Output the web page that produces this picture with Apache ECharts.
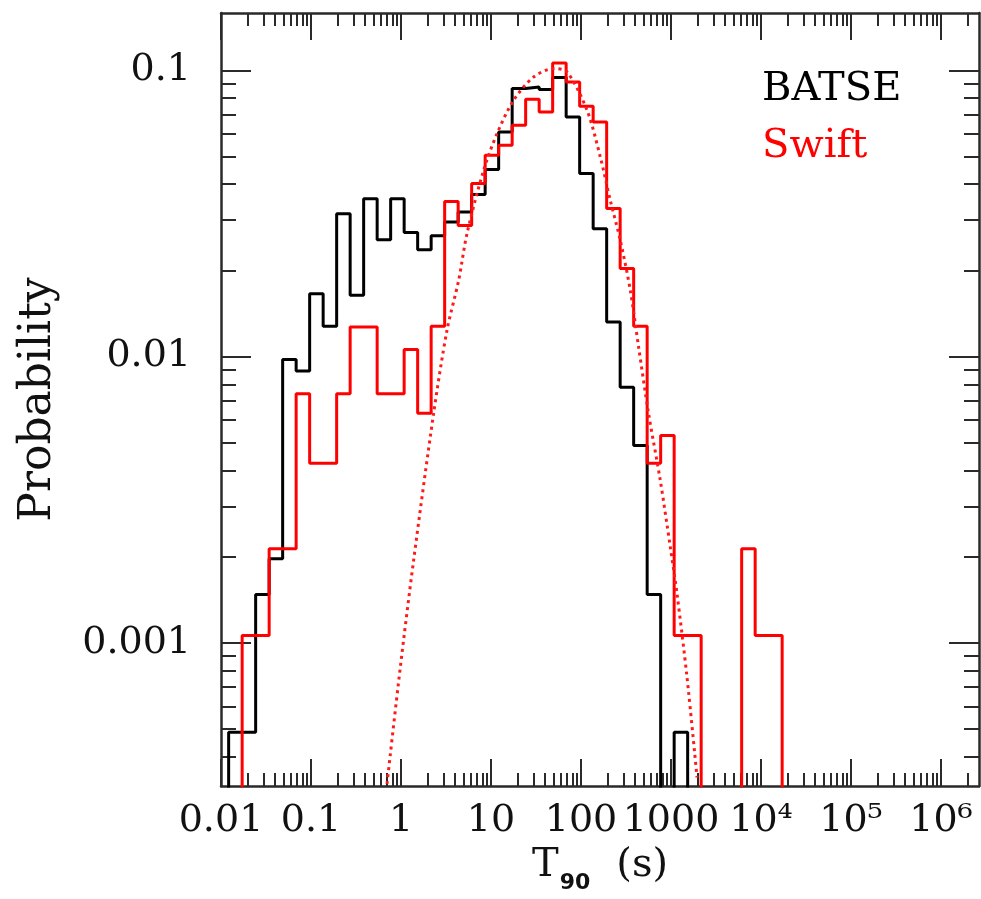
<!DOCTYPE html>
<html>
<head>
<meta charset="utf-8">
<script src="https://cdn.jsdelivr.net/npm/echarts@6/dist/echarts.min.js"></script>
<style>
html,body{margin:0;padding:0;background:#fff;}
#chart{width:981px;height:899px;}
</style>
</head>
<body>
<div id="chart"></div>
<script>
// ---- data ----
// histogram bin edges, log10(T90 / s)
const binEdgesLog = [-1.915,-1.765,-1.615,-1.465,-1.315,-1.165,-1.015,-0.865,-0.715,-0.565,
  -0.415,-0.265,-0.115,0.035,0.185,0.335,0.485,0.635,0.785,0.935,
  1.085,1.235,1.385,1.535,1.685,1.835,1.985,2.135,2.285,2.435,
  2.585,2.735,2.885,3.035,3.185,3.335,3.485,3.635,3.785,3.935,4.085,4.235];
// probability per bin (0 = empty bin)
const batseProb = [4.87e-4,4.87e-4,1.475e-3,1.966e-3,9.77e-3,8.90e-3,0.01658,0.01275,0.03156,0.01636,
  0.0356,0.0256,0.0356,0.0271,0.02362,0.02644,0.0295,0.0320,0.0368,0.0450,
  0.0609,0.0863,0.0874,0.0856,0.0943,0.0687,0.0436,0.02797,0.01320,0.00782,
  0.00489,0.001475,0,4.87e-4];
const swiftProb = [0,1.06e-3,1.06e-3,2.13e-3,2.13e-3,7.42e-3,4.24e-3,4.24e-3,7.42e-3,0.01268,
  0.01268,7.42e-3,7.42e-3,0.01059,6.34e-3,0.01275,0.0348,0.0287,0.0402,0.0505,
  0.0547,0.0642,0.0792,0.0715,0.106,0.0910,0.0748,0.0660,0.0329,0.0203,
  0.01275,4.24e-3,5.30e-3,1.06e-3,1.06e-3,0,0,0,2.13e-3,1.06e-3,1.06e-3];
// dotted fit curve
const fitT = [0.699,0.982,1.38,2.30,3.24,4.37,5.41,8.28,11.66,17.83,29.74,49.6,69.9,116.6,163.8,211.6,273.3,353,436.5,563.7,760.4,982,1166,1506,1945];
const fitP = [3.215e-4,8.21e-4,1.94e-3,6.31e-3,0.01234,0.01845,0.02688,0.04472,0.06009,0.07853,0.0947,0.1014,0.0987,0.0725,0.0498,0.0351,0.02546,0.01703,0.01079,6.31e-3,3.69e-3,2.16e-3,1.483e-3,7.58e-4,3.39e-4];
// tick labels
const xMajor = [0.01,0.1,1,10,100,1000,1e4,1e5,1e6];
const xMajorLabels = ['0.01','0.1','1','10','100','1000','10\u2074','10\u2075','10\u2076'];
const yMajor = [0.001,0.01,0.1];
const yMajorLabels = ['0.001','0.01','0.1'];

// ---- build ----
const FLOOR = 1e-7;
const X_MIN = 0.01, X_MAX = Math.pow(10, 6.422);
const Y_MIN = Math.pow(10, -3.5), Y_MAX = Math.pow(10, -0.8);

function minorTicks(lo, hi) {
  const out = [];
  for (let e = -6; e <= 7; e++) {
    for (let m = 2; m <= 9; m++) {
      const v = m * Math.pow(10, e);
      if (v > lo && v < hi) out.push(v);
    }
  }
  return out;
}
const xMinor = minorTicks(X_MIN, X_MAX);
const yMinor = minorTicks(Y_MIN, Y_MAX);

function histLine(vals) {
  const e = k => Math.pow(10, binEdgesLog[k]);
  const pts = [[e(0), FLOOR]];
  vals.forEach((v, k) => {
    const y = v > 0 ? v : FLOOR;
    pts.push([e(k), y], [e(k + 1), y]);
  });
  pts.push([e(vals.length), FLOOR]);
  return pts;
}
function labelFor(list, labels) {
  return function (val) {
    let best = 0, bd = Infinity;
    list.forEach((t, i) => {
      const d = Math.abs(Math.log10(t) - Math.log10(val));
      if (d < bd) { bd = d; best = i; }
    });
    return labels[best];
  };
}

const AX = '#2a2a2a';
const serif = 'DejaVu Serif';

function xAx(pos, ticks, len, withLabels, withLine) {
  const a = {
    type: 'log', logBase: 10, position: pos, min: X_MIN, max: X_MAX,
    gridIndex: 0,
    axisLine: { show: withLine, onZero: false, lineStyle: { color: AX, width: 2.5 } },
    axisTick: { show: true, inside: true, length: len, customValues: ticks, lineStyle: { color: AX, width: 2 } },
    splitLine: { show: false }, minorTick: { show: false }, minorSplitLine: { show: false },
    axisLabel: { show: false }
  };
  if (withLabels) {
    a.axisLabel = {
      show: true, customValues: xMajor, interval: 0, hideOverlap: false, margin: 16,
      formatter: labelFor(xMajor, xMajorLabels),
      fontFamily: serif, fontSize: 38, color: '#111'
    };
    a.name = '{t|T}{s|90}{g|}{t|(s)}';
    a.nameLocation = 'middle';
    a.nameGap = 60;
    a.nameMoveOverlap = false;
    a.nameTextStyle = {
      rich: {
        t: { fontFamily: serif, fontSize: 40, color: '#111', lineHeight: 48, verticalAlign: 'top' },
        s: { fontFamily: 'DejaVu Sans', fontWeight: 'bold', fontSize: 22, color: '#111', lineHeight: 48, verticalAlign: 'top', padding: [26, 0, 0, 1] },
        g: { width: 26 }
      }
    };
  }
  return a;
}
function yAx(pos, ticks, len, withLabels, withLine) {
  const a = {
    type: 'log', logBase: 10, position: pos, min: Y_MIN, max: Y_MAX,
    gridIndex: 0,
    axisLine: { show: withLine, onZero: false, lineStyle: { color: AX, width: 2.5 } },
    axisTick: { show: true, inside: true, length: len, customValues: ticks, lineStyle: { color: AX, width: 2 } },
    splitLine: { show: false }, minorTick: { show: false }, minorSplitLine: { show: false },
    axisLabel: { show: false }
  };
  if (withLabels) {
    a.axisLabel = {
      show: true, customValues: yMajor, interval: 0, hideOverlap: false, margin: 30,
      formatter: labelFor(yMajor, yMajorLabels),
      fontFamily: serif, fontSize: 38, color: '#111', padding: [8, 0, 0, 0]
    };
    a.name = 'Probability';
    a.nameLocation = 'middle';
    a.nameGap = 160;
    a.nameMoveOverlap = false;
    a.nameTextStyle = { fontFamily: serif, fontSize: 44, color: '#111' };
  }
  return a;
}

const option = {
  animation: false,
  backgroundColor: '#fff',
  grid: { left: 221, right: 2, top: 13, bottom: 113, containLabel: false, outerBoundsMode: 'none' },
  xAxis: [
    xAx('bottom', xMajor, 27, true, true),
    xAx('bottom', xMinor, 13, false, false),
    xAx('top', xMajor, 27, false, true),
    xAx('top', xMinor, 13, false, false)
  ],
  yAxis: [
    yAx('left', yMajor, 30, true, true),
    yAx('left', yMinor, 15, false, false),
    yAx('right', yMajor, 30, false, true),
    yAx('right', yMinor, 15, false, false)
  ],
  legend: {
    orient: 'vertical', left: 752, top: 65, itemWidth: 0, itemHeight: 0, itemGap: 17,
    selectedMode: false,
    textStyle: { fontFamily: serif, fontSize: 40 },
    data: [
      { name: 'BATSE', icon: 'none', textStyle: { color: '#000' } },
      { name: 'Swift', icon: 'none', textStyle: { color: '#ff0000' } }
    ]
  },
  series: [
    {
      name: 'BATSE', type: 'line', data: histLine(batseProb), xAxisIndex: 0, yAxisIndex: 0,
      showSymbol: false, symbol: 'none', clip: true,
      lineStyle: { color: '#000', width: 3 }, itemStyle: { color: '#000' }, z: 3
    },
    {
      name: 'Swift', type: 'line', data: histLine(swiftProb), xAxisIndex: 0, yAxisIndex: 0,
      showSymbol: false, symbol: 'none', clip: true,
      lineStyle: { color: '#ff0000', width: 3 }, itemStyle: { color: '#ff0000' }, z: 4
    },
    {
      name: 'fit', type: 'line', data: fitT.map((t, i) => [t, fitP[i]]), xAxisIndex: 0, yAxisIndex: 0,
      showSymbol: false, symbol: 'none', clip: true, smooth: 0.3,
      lineStyle: { color: '#ff1a1a', width: 3, type: [3, 4] }, z: 5
    }
  ]
};

const chart = echarts.init(document.getElementById('chart'), null, { renderer: 'canvas' });
chart.setOption(option);
</script>
</body>
</html>
